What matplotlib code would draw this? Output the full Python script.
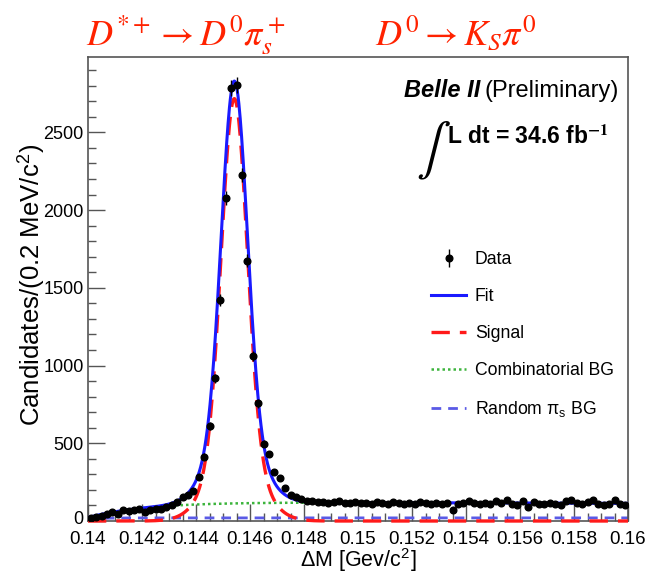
import numpy as np
import matplotlib
matplotlib.use("Agg")
import matplotlib.pyplot as plt
from matplotlib.lines import Line2D
from matplotlib.ticker import MultipleLocator, FixedLocator, FixedFormatter
from matplotlib.transforms import ScaledTranslation

plt.rcParams['font.family'] = ['Liberation Sans', 'DejaVu Sans']
plt.rcParams['mathtext.fontset'] = 'stix'

# ---------------- data ----------------
bin_lo = 0.140
bin_width = 0.0002
counts = [18, 25, 35, 42, 57, 46, 68, 63, 72, 76,
          57, 72, 74, 79, 88, 100, 121, 155, 170, 192,
          281, 414, 612, 917, 1423, 2079, 2784, 2805, 2225, 1674,
          1061, 756, 498, 430, 315, 279, 210, 170, 155, 140,
          130, 128, 122, 125, 118, 121, 126, 115, 119, 124,
          113, 118, 112, 125, 115, 110, 120, 114, 107, 116,
          111, 121, 113, 108, 117, 112, 118, 72, 110, 116,
          128, 115, 111, 113, 108, 128, 114, 137, 112, 100,
          128, 93, 121, 112, 108, 113, 110, 104, 128, 132,
          115, 111, 124, 137, 111, 100, 112, 132, 110, 106]

# fit-model parameters
sig_mean = 0.14542
sig_peak = 2717
sig_core_sigma = 0.000472
sig_tail_sigma = 0.0009
sig_tail_frac = 0.165
pi_mass = 0.13957
bg_plateau = 122
bg_scale = 0.0022
bg_slope = 4.67
rnd_plateau = 20
rnd_scale = 0.0005

x_ticks = [0.14, 0.142, 0.144, 0.146, 0.148, 0.15, 0.152, 0.154, 0.156, 0.158, 0.16]
x_ticklabels = ['0.14', '0.142', '0.144', '0.146', '0.148', '0.15', '0.152', '0.154', '0.156', '0.158', '0.16']
y_ticks = [0, 500, 1000, 1500, 2000, 2500]
legend_labels = ['Data', 'Fit', 'Signal', 'Combinatorial BG', r'Random $\mathregular{\pi_s}$ BG']

# ---------------- model ----------------
def signal(x):
    d = x - sig_mean
    core = (1 - sig_tail_frac) * np.exp(-0.5 * (d / sig_core_sigma) ** 2)
    tail = sig_tail_frac * np.exp(-0.5 * (d / sig_tail_sigma) ** 2)
    return sig_peak * (core + tail)

def comb_bg(x):
    dx = np.clip(x - pi_mass, 0, None)
    return bg_plateau * (1 - np.exp(-dx / bg_scale)) * (1 - bg_slope * (x - 0.145))

def rnd_bg(x):
    dx = np.clip(x - pi_mass, 0, None)
    return rnd_plateau * (1 - np.exp(-dx / rnd_scale))

counts = np.array(counts, dtype=float)
centers = bin_lo + bin_width * (np.arange(len(counts)) + 0.5)
xs = np.linspace(0.14, 0.16, 1200)

fig = plt.figure(figsize=(6.48, 5.78), dpi=100)
ax = fig.add_axes([88 / 648, 1 - 521 / 578, 540 / 648, 464 / 578])

col_fit = '#1a1aff'
col_sig = '#ff1a1a'
col_comb = '#3cb43c'
col_rnd = '#5a5ae6'

ax.plot(xs, comb_bg(xs), color=col_comb, lw=1.8, ls=(0, (1, 1.2)), zorder=2)
ax.plot(xs, rnd_bg(xs), color=col_rnd, lw=2.0, ls=(0, (3.5, 2.5)), zorder=2)
ax.plot(xs, signal(xs), color=col_sig, lw=2.4, ls=(0, (5.5, 3)), zorder=3, clip_on=False)
ax.plot(xs, signal(xs) + comb_bg(xs), color=col_fit, lw=2.2, zorder=4)
ax.errorbar(centers, counts, yerr=np.sqrt(counts), fmt='o', color='black',
            ms=4.8, elinewidth=1.0, capsize=0, zorder=5)

ax.set_xlim(0.14, 0.16)
ax.set_ylim(0, 2985)
ax.xaxis.set_major_locator(FixedLocator(x_ticks))
ax.xaxis.set_major_formatter(FixedFormatter(x_ticklabels))
ax.xaxis.set_minor_locator(MultipleLocator(0.0005))
ax.yaxis.set_major_locator(FixedLocator(y_ticks))
ax.yaxis.set_minor_locator(MultipleLocator(100))
ax.tick_params(axis='both', which='both', direction='in', colors='#555555',
               labelcolor='black', labelsize=13, width=1.0)
ax.tick_params(axis='x', which='major', length=12, pad=7, labelsize=13.5)
ax.tick_params(axis='x', which='minor', length=6)
ax.tick_params(axis='y', which='major', length=12, pad=3)
ax.tick_params(axis='y', which='minor', length=6)
for s in ax.spines.values():
    s.set_color('#555555')
    s.set_linewidth(1.2)

# nudge the "0" y tick label up a little so it clears the "0.14" label
fig.canvas.draw()
zero_lbl = ax.yaxis.get_majorticklabels()[0]
zero_lbl.set_transform(zero_lbl.get_transform() + ScaledTranslation(0, 3 / 100, fig.dpi_scale_trans))

ax.set_xlabel(r'$\mathregular{\Delta}$M [Gev/c$^\mathregular{2}$]', fontsize=15.5, labelpad=-1)
ax.set_ylabel(r'Candidates/(0.2 MeV/c$^\mathregular{2}$)', fontsize=18.5)
ax.yaxis.set_label_coords(-0.076, 0.51)

# legend
h_data = ax.errorbar([], [], yerr=[], fmt='o', color='black', ms=4.8, elinewidth=1.0)
h_fit = Line2D([], [], color=col_fit, lw=2.2)
h_sig = Line2D([], [], color=col_sig, lw=2.4, ls=(0, (5.5, 3)))
h_comb = Line2D([], [], color=col_comb, lw=1.8, ls=(0, (1, 1.2)))
h_rnd = Line2D([], [], color=col_rnd, lw=2.0, ls=(0, (3.5, 2.5)))
ax.legend([h_data, h_fit, h_sig, h_comb, h_rnd], legend_labels,
          loc='upper left', bbox_to_anchor=(0.635, 0.582), frameon=False,
          fontsize=12.7, handlelength=2.0, handletextpad=0.5, labelspacing=1.14,
          borderpad=0, borderaxespad=0)

# title
red = '#ff2200'
fig.text(86 / 648, 1 - 45 / 578, r'$D^{*+}\rightarrow D^0\pi_s^+$', color=red,
         fontsize=26, ha='left', va='baseline')
fig.text(375 / 648, 1 - 45 / 578, r'$D^0\rightarrow K_S\pi^0$', color=red,
         fontsize=26, ha='left', va='baseline')

# Belle II label
fig.text(404 / 648, 1 - 97 / 578, 'Belle II', fontsize=17, fontweight='bold',
         fontstyle='italic', ha='left', va='baseline')
fig.text(485 / 648, 1 - 97 / 578, '(Preliminary)', fontsize=17, ha='left', va='baseline')
fig.text(416 / 648, 1 - 163 / 578, r'$\int$', fontsize=37, ha='left', va='baseline')
fig.text(447 / 648, 1 - 144 / 578, r'L dt = 34.6 fb$^{\mathbf{-1}}$', fontsize=16.5,
         fontweight='bold', ha='left', va='baseline')

fig.savefig('out.png', dpi=100)
